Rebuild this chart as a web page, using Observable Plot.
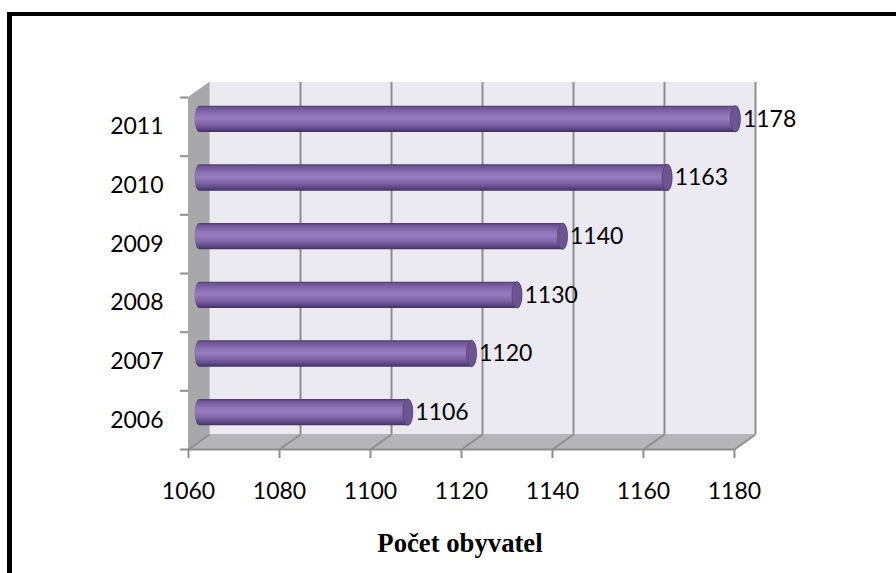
<!DOCTYPE html>
<html><head><meta charset="utf-8">
<script src="https://cdn.jsdelivr.net/npm/d3@7"></script>
<script src="https://cdn.jsdelivr.net/npm/@observablehq/plot@0.6"></script>
<style>
html,body{margin:0;padding:0;background:#fff;width:896px;height:573px;overflow:hidden;}
#wrap{position:relative;width:896px;height:573px;}
#frame{position:absolute;left:7px;top:12px;width:2000px;height:2000px;border-left:5px solid #000;border-top:4px solid #000;}
#chart{position:absolute;left:0;top:0;}
#title{position:absolute;left:0;width:920px;top:530px;text-align:center;font-family:"Liberation Serif","Times New Roman",serif;font-weight:bold;font-size:26.7px;line-height:26.7px;color:#000;}
</style></head>
<body>
<svg width="0" height="0" style="position:absolute">
  <defs>
    <linearGradient id="cyl" x1="0" y1="0" x2="0" y2="1">
      <stop offset="0" stop-color="#4a3a69"/>
      <stop offset="0.08" stop-color="#6c5595"/>
      <stop offset="0.3" stop-color="#8a6fb3"/>
      <stop offset="0.48" stop-color="#977cbf"/>
      <stop offset="0.7" stop-color="#7f66a8"/>
      <stop offset="0.88" stop-color="#5d4985"/>
      <stop offset="1" stop-color="#3e3158"/>
    </linearGradient>
  </defs>
</svg>
<div id="wrap">
  <div id="frame"></div>
  <div id="chart"></div>
  <div id="title">Počet obyvatel</div>
</div>
<script>
// ---- data ----
const years = ["2006", "2007", "2008", "2009", "2010", "2011"];
const population = [1106, 1120, 1130, 1140, 1163, 1178];
const xTicks = [1060, 1080, 1100, 1120, 1140, 1160, 1180];

// ---- 3D geometry (in data units) ----
const xMin = 1060, xMax = 1180;
const frontPx = 733 - 188;                 // front axis pixel length
const depthX = 21 / (frontPx / (xMax - xMin));
const bandPx = 352 / years.length;
const depthY = 15 / bandPx;
const nCat = years.length;
const half = 0.225;

const bars = years.map((year, i) => ({year, i, value: population[i]}));

const grid = "#8e8e8e";
const chart = Plot.plot({
  width: 896,
  height: 510,
  marginLeft: 188,
  marginRight: 141,
  marginTop: 82,
  marginBottom: 61,
  x: {domain: [xMin, xMax + depthX], axis: null},
  y: {domain: [0, nCat + depthY], axis: null},
  style: {fontFamily: "Lato, 'Open Sans', sans-serif", fontSize: "23px", background: "transparent", color: "#000", overflow: "visible"},
  marks: [
    // back wall
    Plot.rect([0], {x1: xMin + depthX, x2: xMax + depthX, y1: depthY, y2: nCat + depthY, fill: "#eceaf1"}),
    // side wall
    Plot.areaY([{x: xMin, y1: 0, y2: nCat}, {x: xMin + depthX, y1: depthY, y2: nCat + depthY}],
      {x: "x", y1: "y1", y2: "y2", fill: "#a8a8ab"}),
    // floor
    Plot.areaX([{y: 0, x1: xMin, x2: xMax}, {y: depthY, x1: xMin + depthX, x2: xMax + depthX}],
      {y: "y", x1: "x1", x2: "x2", fill: "#b5b4b9"}),
    // back gridlines
    Plot.ruleX(xTicks.slice(1), {x: d => d + depthX, y1: depthY, y2: nCat + depthY, stroke: grid, strokeWidth: 2}),
    Plot.ruleX([xMin], {x: d => d + depthX, y1: depthY, y2: nCat + depthY, stroke: "#c4c4c8", strokeWidth: 1}),
    // floor diagonals
    Plot.link(xTicks, {x1: d => d, y1: 0, x2: d => d + depthX, y2: depthY, stroke: grid, strokeWidth: 2}),
    // front floor edge
    Plot.ruleY([0], {x1: xMin, x2: xMax, stroke: grid, strokeWidth: 2}),
    // y tick marks
    Plot.axisY({ticks: d3.range(nCat + 1), tickSize: 8, tickFormat: () => "", stroke: grid, strokeWidth: 2, label: null}),
    // y labels
    Plot.axisY({ticks: d3.range(nCat).map(i => i + 0.5), tickSize: 0, tickPadding: 25, tickFormat: d => years[Math.floor(d)], fill: "#000", label: null}),
    // x axis
    Plot.axisX({ticks: xTicks, tickSize: 9, tickPadding: 24, tickFormat: d => String(d), stroke: grid, strokeWidth: 2, fill: "#000", label: null}),
    // cylinder bodies
    Plot.rect(bars, {
      x1: xMin + depthX / 2, x2: d => d.value + depthX / 2,
      y1: d => d.i + 0.5 + depthY / 2 - half, y2: d => d.i + 0.5 + depthY / 2 + half,
      fill: "url(#cyl)", rx: 5, ry: 13, insetLeft: -4, insetRight: -5
    }),
    // cylinder end caps
    Plot.rect(bars, {
      x1: d => d.value + depthX / 2, x2: d => d.value + depthX / 2,
      y1: d => d.i + 0.5 + depthY / 2 - half, y2: d => d.i + 0.5 + depthY / 2 + half,
      fill: "#6a5590", stroke: "#56446f", strokeWidth: 0.8, rx: 5, ry: 13, insetLeft: -5, insetRight: -5
    }),
    // value labels
    Plot.text(bars, {
      x: d => d.value + depthX / 2, y: d => d.i + 0.5 + depthY / 2,
      text: d => String(d.value), dx: 7, textAnchor: "start", fill: "#000"
    })
  ]
});
document.getElementById("chart").appendChild(chart);
</script>
</body></html>
